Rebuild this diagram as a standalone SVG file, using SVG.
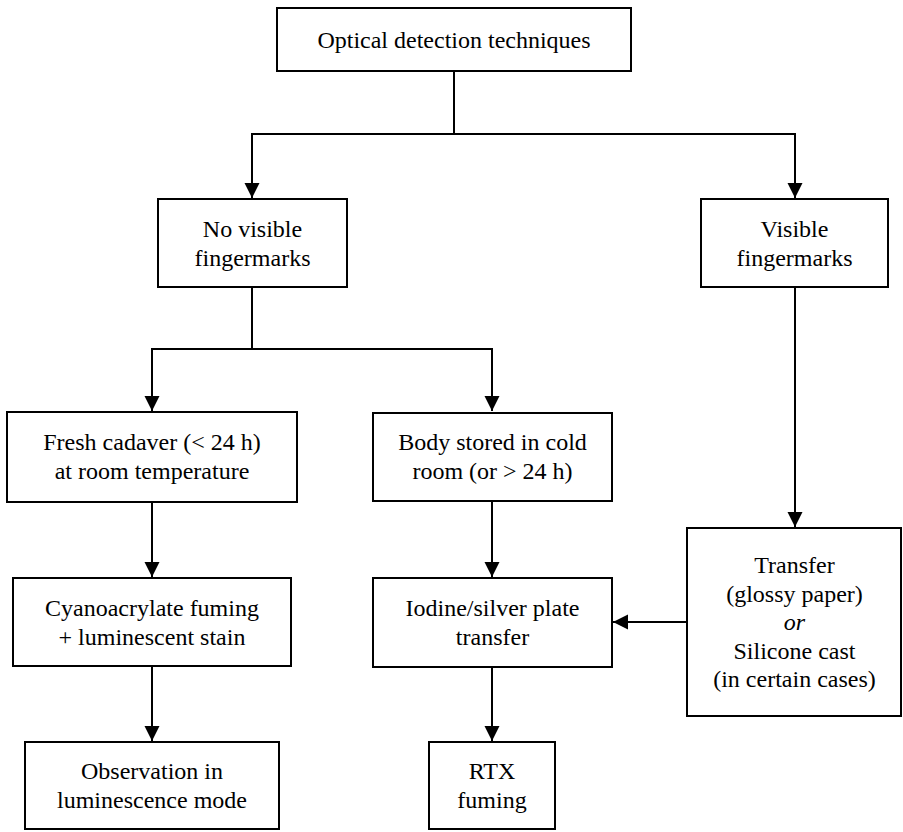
<svg xmlns="http://www.w3.org/2000/svg" width="903" height="832" viewBox="0 0 903 832">
<style>
rect.box{fill:#fff;stroke:#000;stroke-width:2}
text{font-size:24px;fill:#000;text-anchor:middle}
.c{fill:none;stroke:#000;stroke-width:2}
</style>
<defs>
<marker id="ah" markerUnits="userSpaceOnUse" markerWidth="16" markerHeight="16" refX="15" refY="7.5" orient="auto">
<path d="M0,0 L15,7.5 L0,15 z" fill="#000"/>
</marker>
</defs>
<rect width="903" height="832" fill="#fff"/>
<g id="connectors">
<polyline class="c" points="454,71 454,134"/>
<polyline class="c" points="252,134 795,134"/>
<polyline class="c" points="252,133 252,198" marker-end="url(#ah)"/>
<polyline class="c" points="795,133 795,198" marker-end="url(#ah)"/>
<polyline class="c" points="252,287 252,349"/>
<polyline class="c" points="152,349 492,349"/>
<polyline class="c" points="152,348 152,411" marker-end="url(#ah)"/>
<polyline class="c" points="492,348 492,411" marker-end="url(#ah)"/>
<polyline class="c" points="795,287 795,527" marker-end="url(#ah)"/>
<polyline class="c" points="152,502 152,577" marker-end="url(#ah)"/>
<polyline class="c" points="492,501 492,577" marker-end="url(#ah)"/>
<polyline class="c" points="687,622 613,622" marker-end="url(#ah)"/>
<polyline class="c" points="152,666 152,741" marker-end="url(#ah)"/>
<polyline class="c" points="492,667 492,741" marker-end="url(#ah)"/>
</g>
<g id="optical" font-family="Liberation Serif">
<rect class="box" x="277" y="8" width="354" height="63"/>
<text x="454" y="48">Optical detection techniques</text>
</g>
<g id="novisible" font-family="Liberation Serif">
<rect class="box" x="158" y="199" width="189" height="88"/>
<text x="252.5" y="237">No visible</text>
<text x="252.5" y="266">fingermarks</text>
</g>
<g id="visible" font-family="Liberation Serif">
<rect class="box" x="701" y="199" width="187" height="88"/>
<text x="794.5" y="237">Visible</text>
<text x="794.5" y="266">fingermarks</text>
</g>
<g id="fresh" font-family="Liberation Serif">
<rect class="box" x="7" y="412" width="290" height="90"/>
<text x="152" y="450">Fresh cadaver (&lt; 24 h)</text>
<text x="152" y="479">at room temperature</text>
</g>
<g id="cold" font-family="Liberation Serif">
<rect class="box" x="373" y="413" width="239" height="88"/>
<text x="492.5" y="450">Body stored in cold</text>
<text x="492.5" y="479">room (or &gt; 24 h)</text>
</g>
<g id="cyano" font-family="Liberation Serif">
<rect class="box" x="13" y="578" width="278" height="88"/>
<text x="152" y="616">Cyanoacrylate fuming</text>
<text x="152" y="645">+ luminescent stain</text>
</g>
<g id="iodine" font-family="Liberation Serif">
<rect class="box" x="373" y="578" width="239" height="89"/>
<text x="492.5" y="616">Iodine/silver plate</text>
<text x="492.5" y="645">transfer</text>
</g>
<g id="transfer" font-family="Liberation Serif">
<rect class="box" x="687" y="528" width="214" height="188"/>
<text x="794.5" y="573">Transfer</text>
<text x="794.5" y="601.5">(glossy paper)</text>
<text x="794.5" y="630" font-style="italic">or</text>
<text x="794.5" y="658.5">Silicone cast</text>
<text x="794.5" y="687">(in certain cases)</text>
</g>
<g id="observation" font-family="Liberation Serif">
<rect class="box" x="25" y="742" width="254" height="87"/>
<text x="152" y="779">Observation in</text>
<text x="152" y="808">luminescence mode</text>
</g>
<g id="rtx" font-family="Liberation Serif">
<rect class="box" x="429" y="742" width="126" height="87"/>
<text x="492" y="779">RTX</text>
<text x="492" y="808">fuming</text>
</g>
</svg>
